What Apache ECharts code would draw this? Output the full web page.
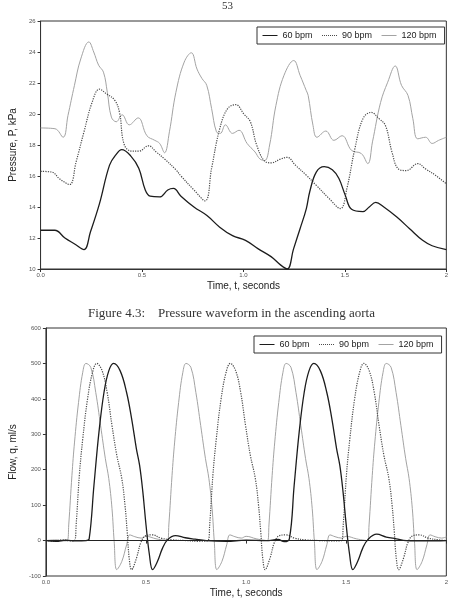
<!DOCTYPE html>
<html>
<head>
<meta charset="utf-8">
<title>Figure 4.3</title>
<script src="https://cdn.jsdelivr.net/npm/echarts/dist/echarts.min.js"></script>
<style>
    html, body { margin: 0; padding: 0; background: #fff; }
    #main { width: 451px; height: 603px; }
</style>
</head>
<body>
<div id="main"></div>
<script>
// series names
var names = ['60 bpm', '90 bpm', '120 bpm'];
var xTicks = [0, 0.5, 1, 1.5, 2];

// pressure in the ascending aorta, kPa  [t, P]
var p60 = [[0,12.5],[0.07,12.5],[0.12,12.0],[0.17,11.6],[0.214,11.25],[0.246,12.4],[0.29,14.2],[0.34,16.7],[0.373,17.4],[0.40,17.7],[0.444,17.3],[0.484,16.5],[0.516,15.1],[0.54,14.7],[0.587,14.65],[0.627,15.1],[0.655,15.2],[0.692,14.7],[0.756,14.0],[0.82,13.45],[0.883,12.7],[0.946,12.15],[1.01,11.85],[1.073,11.3],[1.136,10.8],[1.184,10.25],[1.216,10.0],[1.247,11.3],[1.279,12.6],[1.31,13.9],[1.327,15.0],[1.359,16.25],[1.398,16.6],[1.438,16.4],[1.47,15.85],[1.502,14.75],[1.533,13.85],[1.589,13.7],[1.62,14.0],[1.652,14.3],[1.692,14.0],[1.756,13.35],[1.819,12.6],[1.883,11.85],[1.93,11.5],[2.0,11.25]];
var p90 = [[0,16.3],[0.056,16.25],[0.095,15.8],[0.143,15.45],[0.175,16.9],[0.214,18.85],[0.254,20.75],[0.29,21.6],[0.325,21.3],[0.365,20.9],[0.389,20.1],[0.413,18.0],[0.452,17.6],[0.484,17.6],[0.532,17.95],[0.57,17.55],[0.611,17.1],[0.667,16.4],[0.692,16.0],[0.756,15.1],[0.811,14.4],[0.843,16.5],[0.883,19.05],[0.922,20.35],[0.962,20.6],[1.002,20.0],[1.034,19.5],[1.065,18.0],[1.105,16.95],[1.136,16.85],[1.184,17.1],[1.216,17.2],[1.256,16.7],[1.31,16.05],[1.359,15.4],[1.422,14.55],[1.478,13.9],[1.51,15.2],[1.549,17.75],[1.589,19.7],[1.629,20.1],[1.668,19.7],[1.7,19.25],[1.732,17.55],[1.764,16.45],[1.803,16.35],[1.859,16.8],[1.898,16.45],[1.946,16.05],[2.0,15.5]];
var p120 = [[0,19.1],[0.071,19.05],[0.111,18.5],[0.135,19.9],[0.167,21.85],[0.198,23.55],[0.238,24.65],[0.262,24.0],[0.286,23.15],[0.31,22.7],[0.329,21.4],[0.349,19.8],[0.373,19.5],[0.402,19.95],[0.437,19.3],[0.481,19.75],[0.524,18.6],[0.563,18.3],[0.587,18.1],[0.611,17.5],[0.635,18.85],[0.667,21.4],[0.708,23.35],[0.743,23.95],[0.771,22.9],[0.795,22.3],[0.819,21.85],[0.843,20.35],[0.867,18.85],[0.886,18.75],[0.911,19.3],[0.946,18.75],[0.978,18.95],[1.018,18.1],[1.057,17.55],[1.081,17.1],[1.105,17.0],[1.129,18.0],[1.16,20.55],[1.2,22.5],[1.248,23.45],[1.279,22.5],[1.31,21.5],[1.319,21.2],[1.343,19.25],[1.362,18.5],[1.406,18.9],[1.446,18.3],[1.486,18.6],[1.533,17.65],[1.581,17.45],[1.613,16.8],[1.636,18.2],[1.676,20.75],[1.711,22.05],[1.748,23.1],[1.779,21.85],[1.811,21.2],[1.835,19.7],[1.859,18.4],[1.898,18.5],[1.93,18.1],[1.962,18.3],[2.0,18.5]];

// flow, ml/s  [t, q]
var q60 = [[0,0],[0.05,-2],[0.1,1],[0.15,-1],[0.2,0],[0.216,5],[0.24,156],[0.265,306],[0.29,418],[0.314,479],[0.338,500],[0.371,479],[0.403,418],[0.428,344],[0.452,259],[0.468,212],[0.484,138],[0.5,44],[0.517,-40],[0.533,-82],[0.557,-59],[0.582,-22],[0.607,2],[0.647,14],[0.696,8],[0.745,4],[0.8,0],[0.9,-2],[1.0,1],[1.1,0],[1.16,3],[1.19,-3],[1.216,5],[1.24,156],[1.265,306],[1.29,418],[1.314,479],[1.338,500],[1.371,479],[1.403,418],[1.428,344],[1.452,259],[1.468,212],[1.484,138],[1.5,44],[1.517,-40],[1.533,-82],[1.557,-59],[1.582,-22],[1.607,2],[1.652,18],[1.7,10],[1.75,5],[1.8,0],[1.9,-1],[2.0,0]];
var q90 = [[0,0],[0.04,-2],[0.08,2],[0.12,-1],[0.143,0],[0.151,44],[0.167,184],[0.184,287],[0.208,400],[0.233,475],[0.254,500],[0.281,479],[0.306,418],[0.33,325],[0.354,241],[0.379,175],[0.395,100],[0.406,25],[0.416,-50],[0.428,-82],[0.452,-50],[0.476,-3],[0.5,14],[0.533,16],[0.574,7],[0.63,2],[0.7,0],[0.76,-2],[0.81,0],[0.818,44],[0.834,184],[0.851,287],[0.875,400],[0.9,475],[0.921,500],[0.948,479],[0.973,418],[0.997,325],[1.021,241],[1.046,175],[1.062,100],[1.073,25],[1.083,-50],[1.095,-82],[1.119,-50],[1.143,-3],[1.167,14],[1.2,16],[1.241,7],[1.297,2],[1.367,0],[1.43,-1],[1.477,0],[1.485,44],[1.501,184],[1.518,287],[1.542,400],[1.567,475],[1.588,500],[1.615,479],[1.64,418],[1.664,325],[1.688,241],[1.713,175],[1.729,100],[1.74,25],[1.75,-50],[1.762,-82],[1.786,-50],[1.81,-3],[1.834,14],[1.867,16],[1.908,7],[1.964,2],[2.0,0]];
var q120 = [[0,0],[0.05,2],[0.09,-1],[0.107,0],[0.114,44],[0.13,184],[0.143,278],[0.163,390],[0.184,475],[0.2,500],[0.224,489],[0.249,418],[0.273,325],[0.297,231],[0.314,175],[0.33,91],[0.341,-3],[0.354,-82],[0.379,-59],[0.403,-12],[0.419,16],[0.444,11],[0.476,7],[0.5,12],[0.55,5],[0.59,1],[0.607,0],[0.614,44],[0.63,184],[0.643,278],[0.663,390],[0.684,475],[0.7,500],[0.724,489],[0.749,418],[0.773,325],[0.797,231],[0.814,175],[0.83,91],[0.841,-3],[0.854,-82],[0.879,-59],[0.903,-12],[0.919,16],[0.944,11],[0.976,7],[1.0,12],[1.05,5],[1.09,1],[1.107,0],[1.114,44],[1.13,184],[1.143,278],[1.163,390],[1.184,475],[1.2,500],[1.224,489],[1.249,418],[1.273,325],[1.297,231],[1.314,175],[1.33,91],[1.341,-3],[1.354,-82],[1.379,-59],[1.403,-12],[1.419,16],[1.444,11],[1.476,7],[1.5,12],[1.55,5],[1.59,1],[1.607,0],[1.614,44],[1.63,184],[1.643,278],[1.663,390],[1.684,475],[1.7,500],[1.724,489],[1.749,418],[1.773,325],[1.797,231],[1.814,175],[1.83,91],[1.841,-3],[1.854,-82],[1.879,-59],[1.903,-12],[1.919,16],[1.944,11],[1.976,7],[2.0,10]];

var axisColor = '#333';
var sans = 'Liberation Sans, Arial, sans-serif';
var serif = 'Liberation Serif, Times New Roman, serif';

function xAxisFor(idx) {
    return {
        type: 'value',
        gridIndex: idx,
        min: xTicks[0],
        max: xTicks[xTicks.length - 1],
        interval: 0.5,
        name: 'Time, t, seconds',
        nameLocation: 'middle',
        nameGap: 12,
        nameTextStyle: { fontFamily: sans, fontSize: 10, color: '#222' },
        axisLine: { lineStyle: { color: axisColor, width: 1 } },
        axisTick: { length: 3, lineStyle: { color: axisColor } },
        axisLabel: {
            fontFamily: sans, fontSize: 6, color: '#555', margin: 3,
            formatter: function (v) { return v === 2 ? '2' : v.toFixed(1); }
        },
        splitLine: { show: false }
    };
}

function lineSeries(name, data, idx, kind) {
    var styles = {
        solid: { color: '#1c1c1c', width: 1.3, type: 'solid' },
        dotted: { color: '#4a4a4a', width: 1.2, type: 'dotted' },
        light: { color: '#a3a3a3', width: 1, type: 'solid' }
    };
    var st = styles[kind];
    return {
        name: name,
        type: 'line',
        xAxisIndex: idx,
        yAxisIndex: idx,
        data: data,
        symbol: 'none',
        smooth: 0.4,
        color: st.color,
        lineStyle: st
    };
}

function legendFor(left, top) {
    return {
        data: names,
        left: left,
        top: top,
        orient: 'horizontal',
        selectedMode: false,
        itemWidth: 15,
        itemHeight: 8,
        itemGap: 9,
        padding: [4, 8, 4, 5],
        borderColor: '#333',
        borderWidth: 1,
        backgroundColor: '#fff',
        // hide the marker circle, keep only a thin line sample
        itemStyle: { opacity: 0 },
        lineStyle: { width: 1 },
        textStyle: { fontFamily: sans, fontSize: 9, color: '#222' }
    };
}

var option = {
    backgroundColor: '#fff',
    animation: false,
    graphic: [
        { type: 'text', left: 222, top: 1, style: { text: '53', fontFamily: serif, fontSize: 11, fill: '#333' } },
        { type: 'text', left: 88, top: 307, style: { text: 'Figure 4.3:', fontFamily: serif, fontSize: 13, fill: '#333' } },
        { type: 'text', left: 158, top: 307, style: { text: 'Pressure waveform in the ascending aorta', fontFamily: serif, fontSize: 13, fill: '#333' } }
    ],
    legend: [legendFor(257, 27), legendFor(254, 336)],
    grid: [
        { left: 33, top: 21, right: -2, height: 248, show: true, borderColor: axisColor, borderWidth: 1, backgroundColor: 'transparent' },
        { left: 38, top: 328, right: 2, height: 248, show: true, borderColor: axisColor, borderWidth: 1, backgroundColor: 'transparent' }
    ],
    xAxis: [xAxisFor(0), xAxisFor(1)],
    yAxis: [{
        type: 'value',
        gridIndex: 0,
        min: 10,
        max: 26,
        interval: 2,
        name: 'Pressure, P, kPa',
        nameLocation: 'middle',
        nameGap: 18,
        nameTextStyle: { fontFamily: sans, fontSize: 10, color: '#222' },
        axisLine: { show: true, lineStyle: { color: axisColor } },
        axisTick: { show: true, length: 3, lineStyle: { color: axisColor } },
        axisLabel: { fontFamily: sans, fontSize: 6, color: '#555', margin: 5 },
        splitLine: { show: false }
    }, {
        type: 'value',
        gridIndex: 1,
        min: -100,
        max: 600,
        interval: 100,
        name: 'Flow, q, ml/s',
        nameLocation: 'middle',
        nameGap: 23,
        nameTextStyle: { fontFamily: sans, fontSize: 10, color: '#222' },
        axisLine: { show: true, lineStyle: { color: axisColor } },
        axisTick: { show: true, length: 3, lineStyle: { color: axisColor } },
        axisLabel: { fontFamily: sans, fontSize: 6, color: '#555', margin: 5 },
        splitLine: { show: false }
    }],
    series: [
        lineSeries(names[2], p120, 0, 'light'),
        lineSeries(names[1], p90, 0, 'dotted'),
        lineSeries(names[0], p60, 0, 'solid'),
        lineSeries(names[2], q120, 1, 'light'),
        lineSeries(names[1], q90, 1, 'dotted'),
        lineSeries(names[0], q60, 1, 'solid')
    ]
};

// zero flow reference line
option.series[5].markLine = {
    silent: true,
    symbol: ['none', 'none'],
    label: { show: false },
    lineStyle: { color: '#222', width: 1, type: 'solid' },
    data: [{ yAxis: 0 }]
};

var myChart = echarts.init(document.getElementById('main'));
myChart.setOption(option);
</script>
</body>
</html>
